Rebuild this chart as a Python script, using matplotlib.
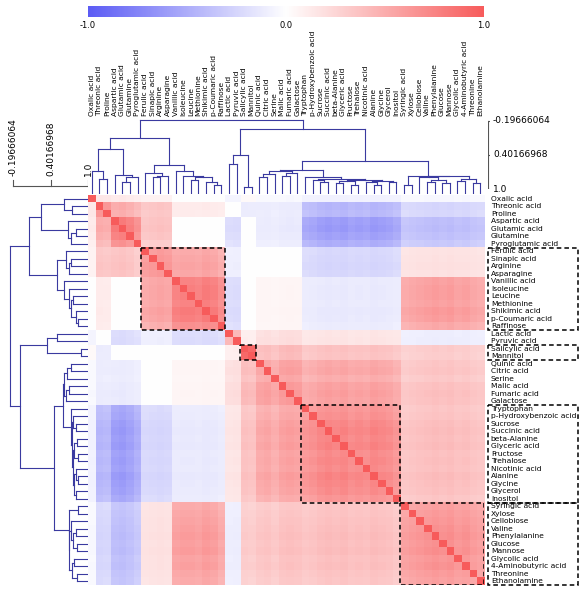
import numpy as np
import matplotlib
matplotlib.use("Agg")
import matplotlib.pyplot as plt
from matplotlib.colors import LinearSegmentedColormap
from matplotlib.patches import Rectangle

labels = ["Oxalic acid","Threonic acid","Proline","Aspartic acid","Glutamic acid","Glutamine",
"Pyroglutamic acid","Ferulic acid","Sinapic acid","Arginine","Asparagine","Vanillic acid",
"Isoleucine","Leucine","Methionine","Shikimic acid","p-Coumaric acid","Raffinose","Lactic acid",
"Pyruvic acid","Salicylic acid","Mannitol","Quinic acid","Citric acid","Serine","Malic acid",
"Fumaric acid","Galactose","Tryptophan","p-Hydroxybenzoic acid","Sucrose","Succinic acid",
"beta-Alanine","Glyceric acid","Fructose","Trehalose","Nicotinic acid","Alanine","Glycine",
"Glycerol","Inositol","Syringic acid","Xylose","Cellobiose","Valine","Phenylalanine","Glucose",
"Mannose","Glycolic acid","4-Aminobutyric acid","Threonine","Ethanolamine"]

# group membership of each metabolite (in display order)
group_of = [0,1,1,2,2,2,2,3,3,3,3,4,4,4,4,4,4,4,5,5,6,6,7,7,7,7,7,7,
            8,8,8,8,8,8,8,8,8,8,8,8,8,9,9,9,9,9,9,9,9,9,9,9]
# how strongly each metabolite follows its group pattern (read roughly)
strength = [0.5,1.2,1.1,1.3,1.4,1.2,0.9,1.0,1.1,1.2,1.1,1.2,1.3,1.3,1.2,1.4,1.3,1.0,0.8,0.9,
            1.2,1.1,1.0,1.1,0.9,1.2,1.3,1.2,1.0,1.1,1.3,1.4,1.3,1.4,1.2,1.3,1.2,1.4,1.3,1.2,1.0,
            1.0,1.1,1.2,1.3,1.4,1.3,1.4,1.2,1.3,1.1,1.0]
# mean correlation between groups
block_corr = np.array([
 [1.00, 0.20, 0.15, 0.10, 0.00,-0.10, 0.05,-0.05,-0.10,-0.05],
 [0.20, 0.55, 0.40, 0.30, 0.10, 0.00,-0.10,-0.10,-0.35,-0.20],
 [0.15, 0.40, 0.60, 0.30, 0.00,-0.20, 0.00,-0.10,-0.45,-0.30],
 [0.10, 0.30, 0.30, 0.55, 0.45,-0.10, 0.00, 0.00,-0.20, 0.15],
 [0.00, 0.10, 0.00, 0.45, 0.60,-0.20, 0.00, 0.05,-0.10, 0.45],
 [-0.10,0.00,-0.20,-0.10,-0.20, 0.50, 0.10, 0.20, 0.15,-0.10],
 [0.05,-0.10, 0.00, 0.00, 0.00, 0.10, 0.80, 0.35, 0.30, 0.25],
 [-0.05,-0.10,-0.10, 0.00, 0.05, 0.20, 0.35, 0.50, 0.45, 0.30],
 [-0.10,-0.35,-0.45,-0.20,-0.10, 0.15, 0.30, 0.45, 0.55, 0.30],
 [-0.05,-0.20,-0.30, 0.15, 0.45,-0.10, 0.25, 0.30, 0.30, 0.50]])
# similarity at which neighbouring leaves join in the dendrogram
join_sim = [0.62,0.75,0.24,0.68,0.80,0.72,0.06,0.65,0.72,0.70,0.51,0.62,0.70,0.76,0.72,0.80,0.84,
            -0.25,0.50,0.35,0.88,-0.09,0.72,0.66,0.62,0.70,0.64,0.60,0.72,0.76,0.80,0.74,0.82,
            0.78,0.84,0.76,0.80,0.84,0.78,0.80,0.45,0.84,0.69,0.72,0.80,0.76,0.82,0.70,0.78,0.74,0.82]

n = len(labels)
g = np.array(group_of)
s = np.sqrt(np.array(strength))
M = np.clip(block_corr[g][:, g] * np.outer(s, s), -0.85, 0.92)
np.fill_diagonal(M, 1.0)

W, H = 585, 599
fig = plt.figure(figsize=(W/100, H/100), dpi=100)
def ax_px(x0, y0, x1, y1):
    return fig.add_axes([x0/W, 1-y1/H, (x1-x0)/W, (y1-y0)/H])

FS = 5.4
cmap = LinearSegmentedColormap.from_list("bwr2", [(0.36,0.36,0.96),(1,1,1),(0.97,0.36,0.36)])
hx0, hy0, hx1, hy1 = 88, 195, 484, 585
ax = ax_px(hx0, hy0, hx1, hy1)
ax.imshow(M, cmap=cmap, vmin=-1, vmax=1, aspect='auto', extent=(0, n, n, 0), interpolation='nearest')
ax.set_xlim(0, n); ax.set_ylim(n, 0); ax.axis('off')
for i, lab in enumerate(labels):
    ax.text(n + 0.9, i + 0.5, lab, fontsize=FS, va='center', ha='left', clip_on=False)
for a, b in [(7, 18), (20, 22), (28, 41), (41, 52)]:
    ax.add_patch(Rectangle((a, a), b - a, b - a, fill=False, ls=(0, (3, 2)), lw=1.1, ec='black'))
    ax.add_patch(Rectangle((n + 0.5, a), 11.8, b - a, fill=False, ls=(0, (3, 2)), lw=1.1,
                           ec='black', clip_on=False))

axl = ax_px(hx0, 28, hx1, 116)
axl.set_xlim(0, n); axl.set_ylim(0, 1); axl.axis('off')
for i, lab in enumerate(labels):
    axl.text(i + 0.5, 0, lab, rotation=90, fontsize=FS, ha='center', va='bottom')

cax = ax_px(hx0, 6, hx1, 17)
cax.imshow(np.linspace(-1, 1, 256)[None, :], cmap=cmap, aspect='auto', extent=(-1, 1, 0, 1))
cax.set_xticks([]); cax.set_yticks([])
for sp in cax.spines.values(): sp.set_visible(False)
for v, t in [(-1, "-1.0"), (0, "0.0"), (1, "1.0")]:
    fig.text((hx0 + (v + 1) / 2 * (hx1 - hx0)) / W, 1 - 25 / H, t, fontsize=6, ha='center', va='center')

def build(lo, hi):
    if hi - lo == 1:
        return (lo + 0.5, 1.0, [])
    seg = join_sim[lo:hi - 1]
    k = lo + int(np.argmin(seg))
    h = join_sim[k]
    p1, h1, s1 = build(lo, k + 1)
    p2, h2, s2 = build(k + 1, hi)
    segs = s1 + s2 + [((p1, h1), (p1, h)), ((p1, h), (p2, h)), ((p2, h), (p2, h2))]
    return ((p1 + p2) / 2, h, segs)
_, _, segs = build(0, n)
dcol = '#3a3aa0'

axt = ax_px(hx0, 118, hx1, 194)
for (x0, y0), (x1, y1) in segs:
    axt.plot([x0, x1], [y0, y1], color=dcol, lw=0.8)
axt.set_xlim(0, n); axt.set_ylim(1.0, -0.28); axt.axis('off')
sc = ax_px(hx1 + 4, 116, hx1 + 6, 189)
sc.set_ylim(1.0, -0.28); sc.set_xlim(0, 1)
sc.plot([0, 0], [1.0, -0.197], color='#555', lw=0.8)
for v, t in [(-0.19666064, "-0.19666064"), (0.40166968, "0.40166968"), (1.0, "1.0")]:
    sc.plot([0, 0.8], [v, v], color='#555', lw=0.8)
    sc.text(2.5, v, t, fontsize=6.5, va='center', ha='left')
sc.axis('off')

axd = ax_px(8, hy0, hx0, hy1)
for (x0, y0), (x1, y1) in segs:
    axd.plot([y0, y1], [x0, x1], color=dcol, lw=0.8)
axd.set_ylim(n, 0); axd.set_xlim(-0.28, 1.0); axd.axis('off')
sl = ax_px(8, 130, hx0, 192)
sl.set_xlim(-0.28, 1.0); sl.set_ylim(0, 1)
sl.plot([-0.197, 1.0], [0.1, 0.1], color='#555', lw=0.8)
for v, t in [(-0.19666064, "-0.19666064"), (0.40166968, "0.40166968"), (1.0, "1.0")]:
    sl.plot([v, v], [0.1, 0.2], color='#555', lw=0.8)
    sl.text(v, 0.26, t, fontsize=6.5, rotation=90, ha='center', va='bottom')
sl.axis('off')

fig.savefig("out.png", dpi=100)
